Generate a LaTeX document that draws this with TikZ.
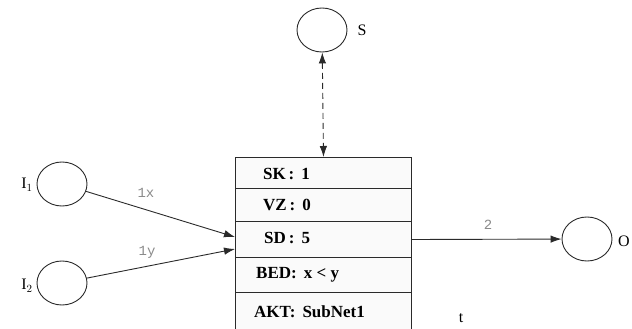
\documentclass[tikz,border=0pt]{standalone}
\usepackage{fontspec}
\setmainfont{Liberation Serif}
\setmonofont{Liberation Mono}
\usetikzlibrary{arrows.meta,calc,shapes.geometric}
\definecolor{ln}{HTML}{2A2A2A}
\definecolor{lbl}{HTML}{8A8A8A}
\begin{document}
\begin{tikzpicture}[x=1pt,y=-1pt,
  place/.style={draw=ln,line width=0.9pt,shape=ellipse,minimum width=50pt,minimum height=44pt,inner sep=0pt},
  rowbox/.style={draw=ln,line width=1pt,fill=gray!4,minimum width=176pt,inner sep=0pt,anchor=north west},
  rowtext/.style={font=\fontsize{17}{19}\selectfont\bfseries,anchor=west,inner sep=0pt},
  plabel/.style={font=\fontsize{16}{18}\selectfont,inner sep=0pt},
  arclabel/.style={font=\ttfamily\fontsize{14}{16}\selectfont,text=lbl,inner sep=0pt},
  arc/.style={draw=ln,line width=0.9pt,-{Latex[length=11pt,width=7.5pt]}},
  ]
\useasboundingbox (0,0) rectangle (632,329);
% box rows
\node[rowbox,minimum height=31pt] (r1) at (235,157) {};
\node[rowbox,minimum height=33pt] (r2) at (235,188) {};
\node[rowbox,minimum height=36pt] (r3) at (235,221) {};
\node[rowbox,minimum height=35pt] (r4) at (235,257) {};
\node[rowbox,minimum height=38pt] (r5) at (235,292) {};
\node[rowtext] (t1) at (263,174) {SK\,:\, 1};
\node[rowtext] (t2) at (263,205) {VZ\,:\, 0};
\node[rowtext] (t3) at (264,238) {SD\,:\, 5};
\node[rowtext] (t4) at (256,275) {BED:\, x < y};
\node[rowtext] (t5) at (254,312) {AKT:\, SubNet1};
% places
\node[place] (S) at (322,30) {};
\node[place] (I1) at (62,184) {};
\node[place] (I2) at (62,283) {};
\node[place] (O) at (587,239) {};
\node[plabel] (lS) at (362,30) {S};
\node[plabel] (lI1) at (27,185) {I$_1$};
\node[plabel] (lI2) at (27,286) {I$_2$};
\node[plabel] (lO) at (624,241) {O};
\node[plabel] (lt) at (461,318) {t};
% connectors
\coordinate (c1) at (235,237);
\coordinate (c2) at (235,249);
\draw[arc] (I1) -- (c1);
\draw[arc] (I2) -- (c2);
\draw[arc] (r3.east) -- (O);
\draw[draw=ln,line width=0.9pt,dash pattern=on 6pt off 4pt,{Latex[length=11pt,width=7.5pt]}-{Latex[length=11pt,width=7.5pt]}] (S) -- (r1.north);
\node[arclabel] (a1) at (146,193) {1x};
\node[arclabel] (a2) at (147,252) {1y};
\node[arclabel] (a3) at (488,225) {2};
\end{tikzpicture}
\end{document}
